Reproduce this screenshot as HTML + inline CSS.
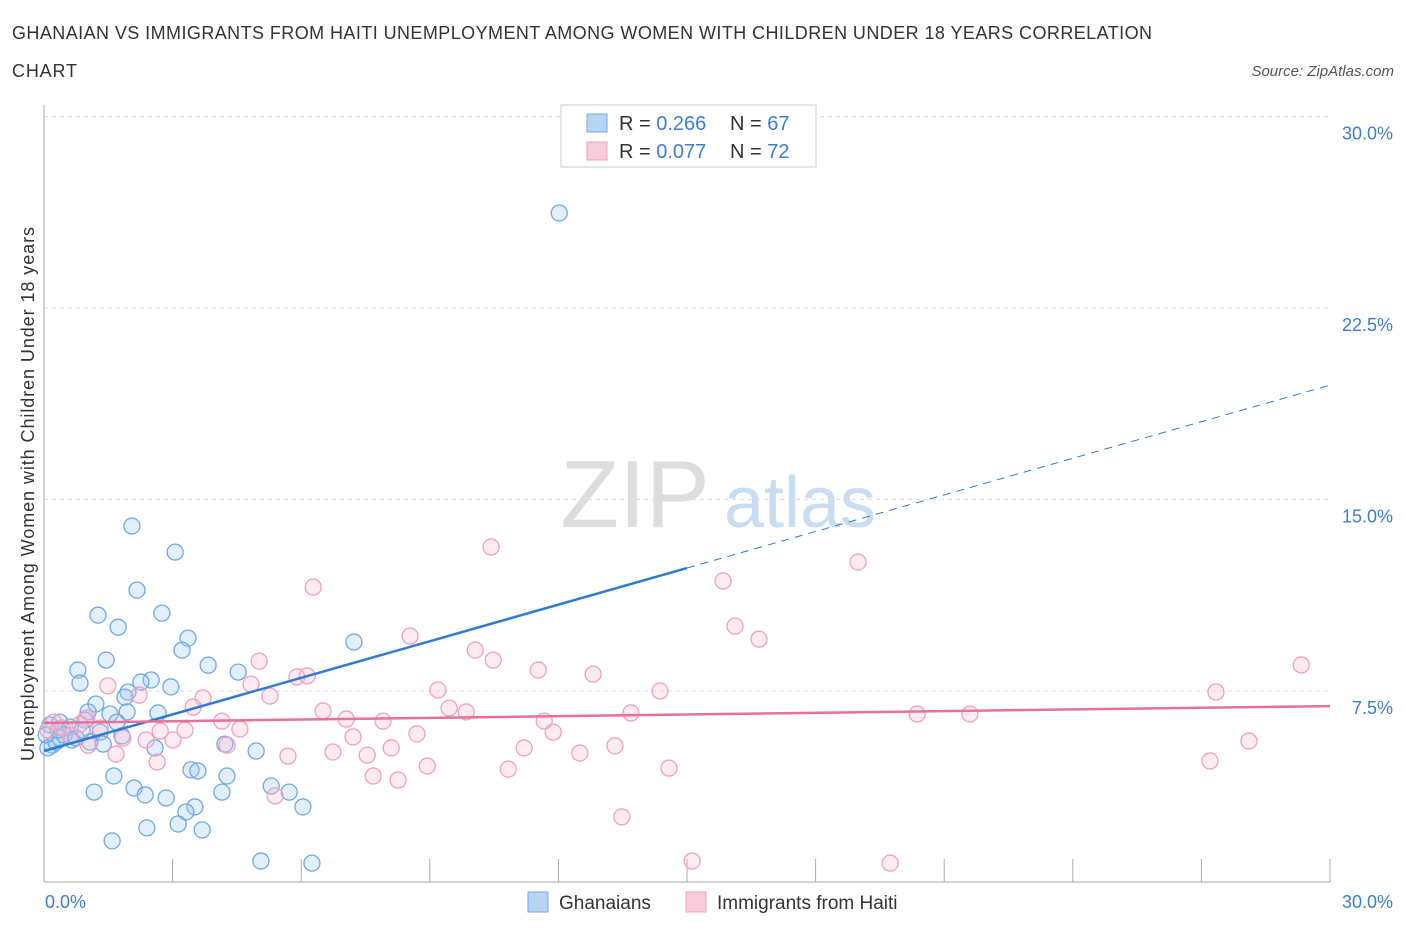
<!DOCTYPE html>
<html><head><meta charset="utf-8">
<style>
body{margin:0;background:#fff;font-family:"Liberation Sans",sans-serif;}
svg text{font-family:"Liberation Sans",sans-serif;}
</style></head>
<body>
<svg id="chart" width="1406" height="930" xmlns="http://www.w3.org/2000/svg">
<text x="12" y="39" font-size="18" fill="#333" textLength="1140" lengthAdjust="spacing">GHANAIAN VS IMMIGRANTS FROM HAITI UNEMPLOYMENT AMONG WOMEN WITH CHILDREN UNDER 18 YEARS CORRELATION</text>
<text x="12" y="77" font-size="18" fill="#333" textLength="65" lengthAdjust="spacing">CHART</text>
<text x="1394" y="76" font-size="15" font-style="italic" fill="#555" text-anchor="end">Source: ZipAtlas.com</text>
<text transform="translate(34,494) rotate(-90)" font-size="18" fill="#333" text-anchor="middle" textLength="534" lengthAdjust="spacing">Unemployment Among Women with Children Under 18 years</text>
<g>
<text x="635" y="527" font-size="96" font-family="Liberation Serif" fill="#ddd" text-anchor="middle">ZIP</text>
<text x="800" y="527" font-size="72" fill="#c8dcf2" text-anchor="middle">atlas</text>
</g>
<g id="grid"></g>
<g id="marks"></g>
<g>
<rect x="561" y="105" width="255" height="62" fill="#fff" stroke="#ccc"/>
<rect x="587" y="114" width="20" height="18" fill="#b8d4f4" stroke="#6fa8e8"/>
<text x="619" y="130" font-size="20" fill="#333">R = <tspan fill="#3b7dd8">0.266</tspan></text>
<text x="730" y="130" font-size="20" fill="#333">N = <tspan fill="#3b7dd8">67</tspan></text>
<rect x="587" y="142" width="20" height="18" fill="#f9cbd9" stroke="#f0a0bc"/>
<text x="619" y="158" font-size="20" fill="#333">R = <tspan fill="#3b7dd8">0.077</tspan></text>
<text x="730" y="158" font-size="20" fill="#333">N = <tspan fill="#3b7dd8">72</tspan></text>
</g>
<g>
<rect x="528" y="892" width="20" height="20" fill="#b8d4f4" stroke="#6fa8e8"/>
<text x="559" y="909" font-size="19" fill="#333">Ghanaians</text>
<rect x="686" y="892" width="20" height="20" fill="#f9cbd9" stroke="#f0a0bc"/>
<text x="717" y="909" font-size="19" fill="#333">Immigrants from Haiti</text>
</g>
</svg>
<script>
const yTicks=[7.5,15,22.5,30];
const yTickLabels=["7.5%","15.0%","22.5%","30.0%"];
const xTicks=[0,3,6,9,12,15,18,21,24,27,30];
const blueX=[12.02,2.05,3.06,2.17,1.26,2.75,1.73,3.36,3.22,7.23,1.45,3.83,0.79,4.53,2.50,2.26,0.84,2.96,1.96,1.89,1.21,1.03,1.54,2.66,1.94,1.70,0.96,0.37,0.14,0.61,1.31,1.82,0.37,0.65,1.07,1.38,2.59,4.22,4.95,0.19,0.09,1.63,3.43,3.59,4.27,5.30,2.10,1.17,2.36,4.15,2.85,5.72,3.52,3.31,6.04,3.13,2.40,3.69,1.59,5.06,6.25,0.28,0.47,0.75,0.89,0.33,0.05];
const blueY=[26.22,13.96,12.94,11.45,10.47,10.55,10.00,9.57,9.10,9.42,8.71,8.51,8.32,8.24,7.93,7.85,7.81,7.66,7.46,7.26,6.99,6.68,6.60,6.64,6.68,6.28,6.36,6.28,6.17,6.09,5.89,5.74,5.66,5.58,5.50,5.42,5.27,5.42,5.15,5.38,5.27,4.17,4.41,4.37,4.17,3.78,3.70,3.54,3.43,3.54,3.31,3.54,2.96,2.76,2.96,2.29,2.14,2.06,1.63,0.84,0.76,5.50,5.78,5.66,5.97,5.97,5.78];
const pinkX=[10.43,18.99,15.84,6.28,16.12,16.68,8.54,10.06,10.48,5.02,11.53,12.81,5.90,6.14,29.33,4.83,1.49,9.19,14.37,27.34,2.22,3.71,5.27,3.48,9.45,9.85,6.51,13.69,20.37,21.60,7.05,11.67,4.15,7.91,1.00,3.29,11.88,8.70,4.57,2.71,7.21,2.38,3.01,4.27,1.03,1.84,28.11,8.10,6.74,11.20,13.32,7.54,12.50,1.68,5.69,2.64,8.94,10.83,14.58,27.20,7.68,8.26,5.39,13.48,15.12,19.74,0.23,0.61,0.42,0.09,0.84,1.31];
const pinkY=[13.14,12.55,11.81,11.57,10.04,9.53,9.65,9.10,8.71,8.67,8.32,8.16,8.05,8.09,8.52,7.77,7.70,7.54,7.50,7.46,7.34,7.23,7.30,6.87,6.83,6.68,6.72,6.64,6.60,6.60,6.40,6.32,6.32,6.32,6.44,5.97,5.89,5.82,6.01,5.93,5.70,5.58,5.58,5.38,5.38,5.66,5.54,5.27,5.11,5.27,5.35,4.99,5.07,5.03,4.95,4.72,4.56,4.44,4.48,4.76,4.17,4.01,3.39,2.57,0.84,0.76,6.28,5.74,6.05,5.97,6.20,6.05];
const blueTrend=[5.15,19.48];
const pinkTrend=[6.25,6.91];
const NS="http://www.w3.org/2000/svg";
const X=v=>44+v/30*1286;
const Y=v=>882.5-v/7.5*191.5;
function mk(tag,attrs,parent){const e=document.createElementNS(NS,tag);for(const k in attrs)e.setAttribute(k,attrs[k]);parent.appendChild(e);return e;}
const grid=document.getElementById('grid'),marks=document.getElementById('marks');
yTicks.forEach((t,i)=>{
 const l=mk('line',{x1:44,x2:1330,y1:Y(t),y2:Y(t),stroke:'#ddd','stroke-dasharray':'4,4'},grid);
 
 
 const tx=mk('text',{x:1393,y:Y(t)+23,'font-size':18,fill:'#3b7dd8','text-anchor':'end'},grid);
 tx.textContent=yTickLabels[i];
 
 
});
const ax=mk('line',{x1:44,x2:44,y1:105,y2:882,stroke:'#aaa'},grid);


const bx=mk('line',{x1:44,x2:1330,y1:882,y2:882,stroke:'#aaa'},grid);


xTicks.forEach(t=>{
 const l=mk('line',{x1:X(t),x2:X(t),y1:859,y2:882,stroke:'#aaa'},grid);
 
 
});
const xl0=mk('text',{x:45,y:908,'font-size':18,fill:'#3b7dd8'},grid);xl0.textContent='0.0%';


const xl1=mk('text',{x:1393,y:908,'font-size':18,fill:'#3b7dd8','text-anchor':'end'},grid);xl1.textContent='30.0%';


function pts(xs,ys,fill,stroke,name){xs.forEach((x,i)=>{
 const c=mk('circle',{cx:X(x),cy:Y(ys[i]),r:8,fill:fill,stroke:stroke,'stroke-width':1.3},marks);
 
 
});}
pts(blueX,blueY,'rgba(160,200,240,0.3)','#6fa8e8','ghanaian-point');
pts(pinkX,pinkY,'rgba(249,190,210,0.3)','#f0a0bc','haiti-point');
const slope=(blueTrend[1]-blueTrend[0])/30;
const b1=mk('line',{x1:X(0),y1:Y(blueTrend[0]),x2:X(15),y2:Y(blueTrend[0]+slope*15),stroke:'#2f7ad6','stroke-width':2.5},marks);


const b2=mk('line',{x1:X(15),y1:Y(blueTrend[0]+slope*15),x2:X(30),y2:Y(blueTrend[1]),stroke:'#2f7ad6','stroke-width':1,'stroke-dasharray':'8,6'},marks);


const p1=mk('line',{x1:X(0),y1:Y(pinkTrend[0]),x2:X(30),y2:Y(pinkTrend[1]),stroke:'#e8709a','stroke-width':2.5},marks);


</script>
</body></html>
